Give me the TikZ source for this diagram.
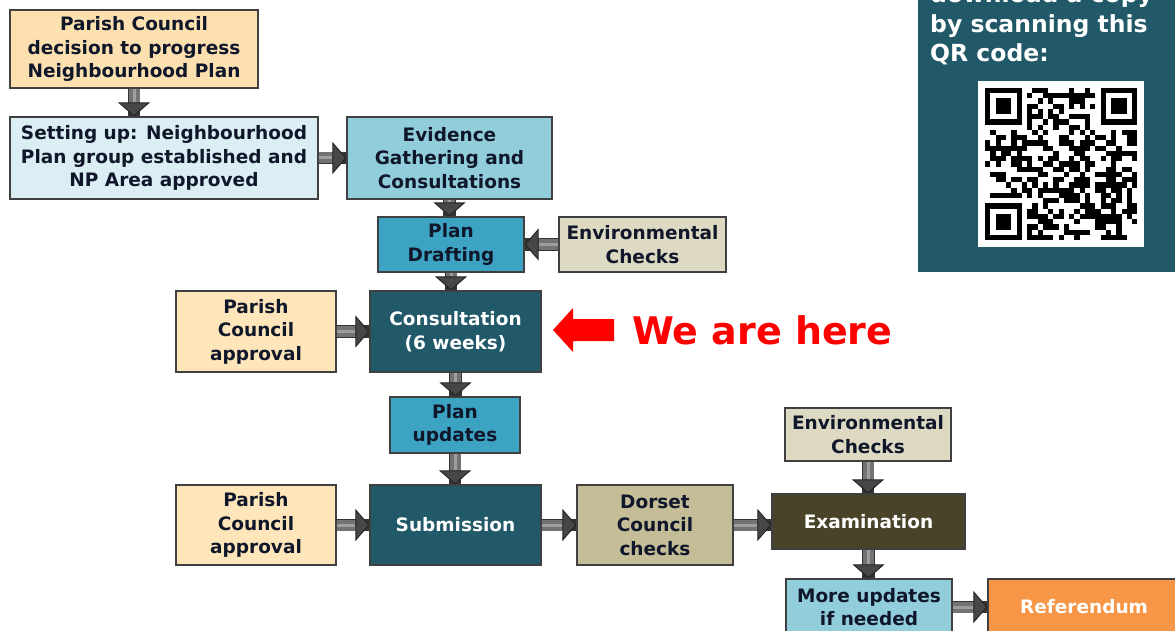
\documentclass[tikz,border=0pt]{standalone}
\usepackage{fontspec}
\setmainfont{DejaVu Sans}
\usetikzlibrary{arrows.meta}

\definecolor{ink}{HTML}{10172A}
\definecolor{peach}{HTML}{FCE0B0}
\definecolor{cream}{HTML}{FFE6BA}
\definecolor{paleblue}{HTML}{DAEEF3}
\definecolor{skyblue}{HTML}{92CDDC}
\definecolor{midblue}{HTML}{3CA4C2}
\definecolor{darkteal}{HTML}{215968}
\definecolor{stone}{HTML}{DDD9C3}
\definecolor{khaki}{HTML}{C4BD97}
\definecolor{olive}{HTML}{494429}
\definecolor{orange}{HTML}{F79646}

\newcommand{\boxfont}{\fontsize{18.5}{23.5}\selectfont\bfseries}

\begin{document}
\begin{tikzpicture}[x=1pt, y=-1pt,
  box/.style={draw=black!75, line width=1.2pt, inner sep=0pt, align=center, text=ink, font=\boxfont},
  darkbox/.style={box, text=white},
  blk/.style={line width=11pt, draw=black!55, -{Triangle[length=14pt,width=32pt,line width=1pt,color=black!85,fill=black!72]}, preaction={draw=black!80, line width=12.6pt, -}, postaction={draw=black!38, line width=3pt, -, shorten >=14pt}}]

\useasboundingbox (0,0) rectangle (1175,631);
\fill[white] (0,0) rectangle (1175,631);

% stages
\node (decision) [box, fill=peach, minimum width=248pt, minimum height=78pt] at (134,49) {Parish Council\\decision to progress\\Neighbourhood Plan};
\node (setup) [box, fill=paleblue, minimum width=308pt, minimum height=82pt] at (164,158) {Setting up: Neighbourhood\\Plan group established and\\NP Area approved};
\node (evidence) [box, fill=skyblue, minimum width=205pt, minimum height=82pt] at (449.5,158) {Evidence\\Gathering and\\Consultations};
\node (drafting) [box, fill=midblue, minimum width=146pt, minimum height=55pt] at (451,244.5) {Plan\\Drafting};
\node (envtop) [box, fill=stone, minimum width=167pt, minimum height=55pt] at (642.5,244.5) {Environmental\\Checks};
\node (approvalA) [box, fill=cream, minimum width=160pt, minimum height=81pt] at (256,331.5) {Parish\\Council\\approval};
\node (consult) [darkbox, fill=darkteal, minimum width=171pt, minimum height=81pt] at (455.5,331.5) {Consultation\\(6 weeks)};
\node (updates) [box, fill=midblue, minimum width=130pt, minimum height=56pt] at (455,425) {Plan\\updates};
\node (approvalB) [box, fill=cream, minimum width=160pt, minimum height=80pt] at (256,525) {Parish\\Council\\approval};
\node (submission) [darkbox, fill=darkteal, minimum width=171pt, minimum height=80pt] at (455.5,525) {Submission};
\node (dorset) [box, fill=khaki, minimum width=156pt, minimum height=80pt] at (655,525) {Dorset\\Council\\checks};
\node (envbot) [box, fill=stone, minimum width=166pt, minimum height=53pt] at (868,434.5) {Environmental\\Checks};
\node (exam) [darkbox, fill=olive, minimum width=193pt, minimum height=55pt] at (868.5,521.5) {Examination};
\node (more) [box, fill=skyblue, minimum width=166pt, minimum height=56pt] at (869,607) {More updates\\if needed};
\node (referendum) [darkbox, fill=orange, minimum width=192pt, minimum height=56pt] at (1084,607) {Referendum};

% we are here
\fill[red] (553,330) -- (573,308) -- (573,319) -- (614,319) -- (614,341) -- (573,341) -- (573,352) -- cycle;
\node (here) [anchor=west, inner sep=0pt, text=red, font=\fontsize{38}{40}\selectfont\bfseries] at (632,330) {We are here};

% QR panel
\fill[darkteal] (918,-10) rectangle (1180,272);
\node (scan) [anchor=west, inner sep=0pt, align=left, text=white, font=\fontsize{23.5}{29.5}\selectfont\bfseries] at (930,25) {download a copy\\by scanning this\\QR code:};
\fill[white] (978,81) rectangle (1144,247);
\pgfmathsetseed{11}
\def\qm{5.25}
\foreach \r in {0,...,28}{
  \foreach \c in {0,...,28}{
    \pgfmathtruncatemacro\qfree{((\r<8 && \c<8) || (\r<8 && \c>20) || (\r>20 && \c<8)) ? 0 : 1}
    \pgfmathrandominteger\qbit{0}{1}
    \ifnum\qfree\qbit=11 \fill (985+\c*\qm, 88+\r*\qm) rectangle ++(\qm,\qm);\fi
  }
}
\foreach \fx/\fy in {985/88, 1100.5/88, 985/203.5}{
  \fill (\fx,\fy) rectangle ++(36.75,36.75);
  \fill[white] (\fx+5.25,\fy+5.25) rectangle ++(26.25,26.25);
  \fill (\fx+10.5,\fy+10.5) rectangle ++(15.75,15.75);
}

% arrows
\draw[blk] (decision.south) -- (decision.south |- setup.north);
\draw[blk] (setup.east) -- (evidence.west);
\draw[blk] (evidence.south) -- (evidence.south |- drafting.north);
\draw[blk] (envtop.west) -- (drafting.east);
\draw[blk] (drafting.south) -- (drafting.south |- consult.north);
\draw[blk] (approvalA.east) -- (consult.west);
\draw[blk] (consult.south) -- (consult.south |- updates.north);
\draw[blk] (updates.south) -- (updates.south |- submission.north);
\draw[blk] (approvalB.east) -- (submission.west);
\draw[blk] (submission.east) -- (dorset.west);
\draw[blk] (dorset.east) -- (dorset.east -| exam.west);
\draw[blk] (envbot.south) -- (envbot.south |- exam.north);
\draw[blk] (exam.south) -- (exam.south |- more.north);
\draw[blk] (more.east) -- (referendum.west);
\end{tikzpicture}
\end{document}
